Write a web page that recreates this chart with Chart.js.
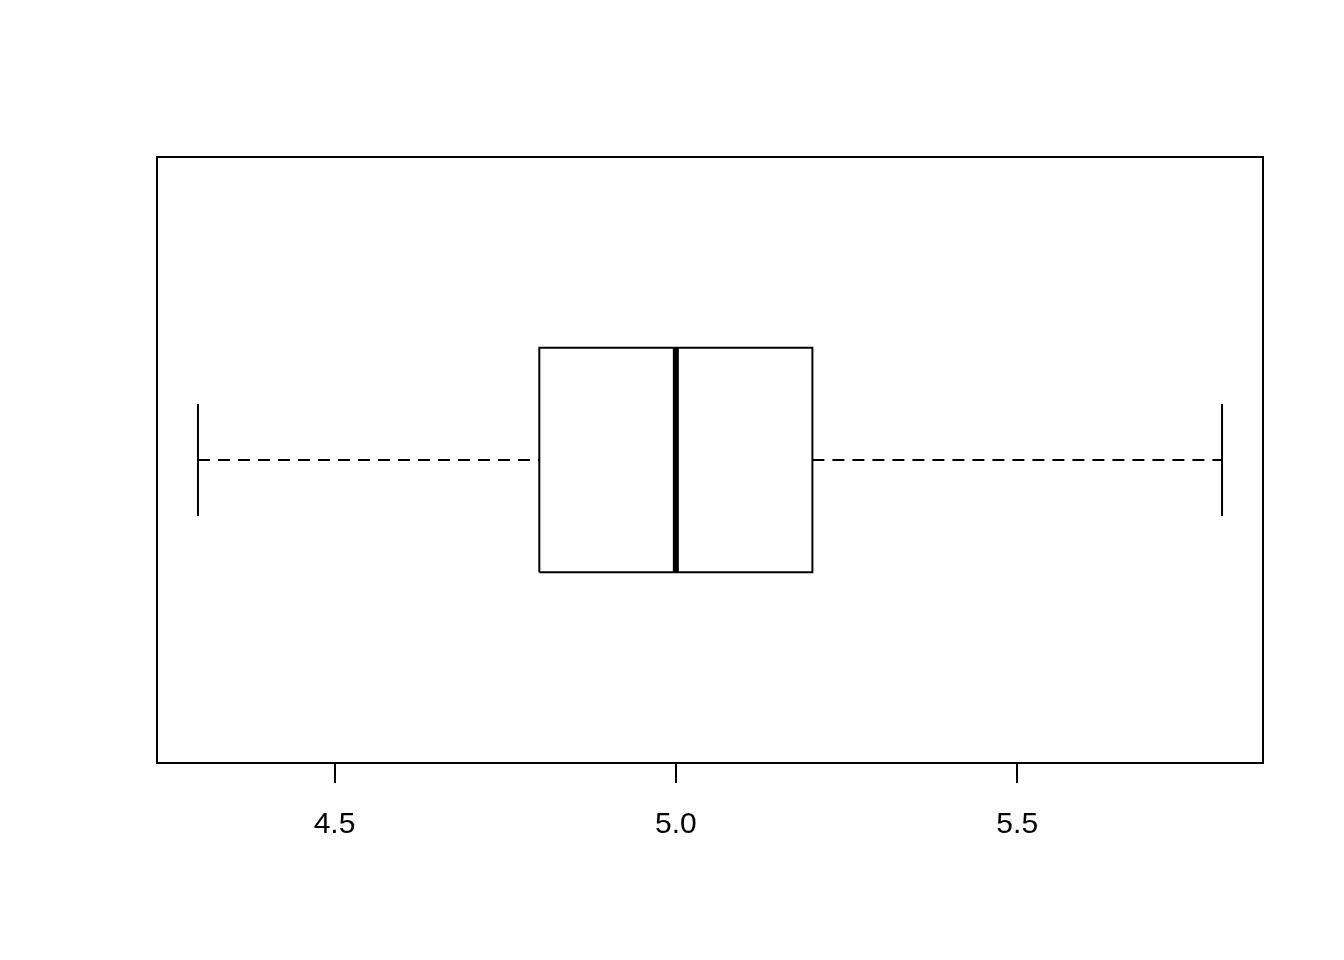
<!DOCTYPE html>
<html>
<head>
<meta charset="utf-8">
<script src="https://cdn.jsdelivr.net/npm/chart.js@4/dist/chart.umd.min.js"></script>
<style>
  html, body { margin: 0; padding: 0; background: #ffffff; }
  canvas { display: block; }
</style>
</head>
<body>
<canvas id="c" width="1344" height="960"></canvas>
<script>
// Five-number summary: min, Q1, median, Q3, max
const categories = ['1'];
const statsMin = [4.3];
const statsQ1 = [4.8];
const statsMedian = [5.0];
const statsQ3 = [5.2];
const statsMax = [5.8];
const tickValues = [4.5, 5.0, 5.5];
const tickLabels = ['4.5', '5.0', '5.5'];

const groupPos = 1;      // group position on the (hidden) category axis
const boxHalf = 0.2;     // half box width
const stapleHalf = 0.1;  // half staple width

const i = 0;
const datasets = [
  { // left whisker (dashed)
    data: [{x: statsMin[i], y: groupPos}, {x: statsQ1[i], y: groupPos}],
    borderDash: [12, 8], borderWidth: 2
  },
  { // right whisker (dashed)
    data: [{x: statsQ3[i], y: groupPos}, {x: statsMax[i], y: groupPos}],
    borderDash: [12, 8], borderWidth: 2
  },
  { // lower staple
    data: [{x: statsMin[i], y: groupPos - stapleHalf}, {x: statsMin[i], y: groupPos + stapleHalf}],
    borderWidth: 2
  },
  { // upper staple
    data: [{x: statsMax[i], y: groupPos - stapleHalf}, {x: statsMax[i], y: groupPos + stapleHalf}],
    borderWidth: 2
  },
  { // box
    data: [
      {x: statsQ1[i], y: groupPos - boxHalf},
      {x: statsQ3[i], y: groupPos - boxHalf},
      {x: statsQ3[i], y: groupPos + boxHalf},
      {x: statsQ1[i], y: groupPos + boxHalf},
      {x: statsQ1[i], y: groupPos - boxHalf}
    ],
    borderWidth: 2, borderJoinStyle: 'miter'
  },
  { // median
    data: [{x: statsMedian[i], y: groupPos - boxHalf}, {x: statsMedian[i], y: groupPos + boxHalf}],
    borderWidth: 6, borderCapStyle: 'butt'
  }
].map(d => Object.assign({
  type: 'line', showLine: true, pointRadius: 0, borderColor: '#000000',
  backgroundColor: 'rgba(0,0,0,0)', fill: false, tension: 0, borderCapStyle: 'butt'
}, d));

const lo = Math.min(...statsMin), hi = Math.max(...statsMax);
const ext = (hi - lo) * 0.04;

const framePlugin = {
  id: 'frame',
  afterDraw(chart) {
    const a = chart.chartArea, ctx = chart.ctx;
    ctx.save();
    ctx.strokeStyle = '#000';
    ctx.lineWidth = 2;
    ctx.strokeRect(a.left, a.top, a.right - a.left, a.bottom - a.top);
    ctx.restore();
  }
};

new Chart(document.getElementById('c'), {
  type: 'line',
  data: { datasets },
  options: {
    responsive: false,
    animation: false,
    events: [],
    layout: { padding: { left: 157, right: 81, top: 157, bottom: 0 } },
    plugins: { legend: { display: false }, tooltip: { enabled: false } },
    scales: {
      x: {
        type: 'linear',
        min: lo - ext,
        max: hi + ext,
        afterBuildTicks(scale) { scale.ticks = tickValues.map(v => ({ value: v })); },
        afterFit(scale) { scale.height = 197; },
        ticks: {
          color: '#000',
          font: { family: 'Liberation Sans, Arial, Helvetica, sans-serif', size: 30 },
          padding: 24,
          maxRotation: 0,
          autoSkip: false,
          callback: (v) => { const k = tickValues.indexOf(v); return k >= 0 ? tickLabels[k] : ''; }
        },
        grid: { drawOnChartArea: false, drawTicks: true, tickLength: 20, color: '#000', lineWidth: 2 },
        border: { display: false }
      },
      y: {
        type: 'linear',
        min: groupPos - 0.54,
        max: groupPos + 0.54,
        display: false
      }
    }
  },
  plugins: [framePlugin]
});
</script>
</body>
</html>
